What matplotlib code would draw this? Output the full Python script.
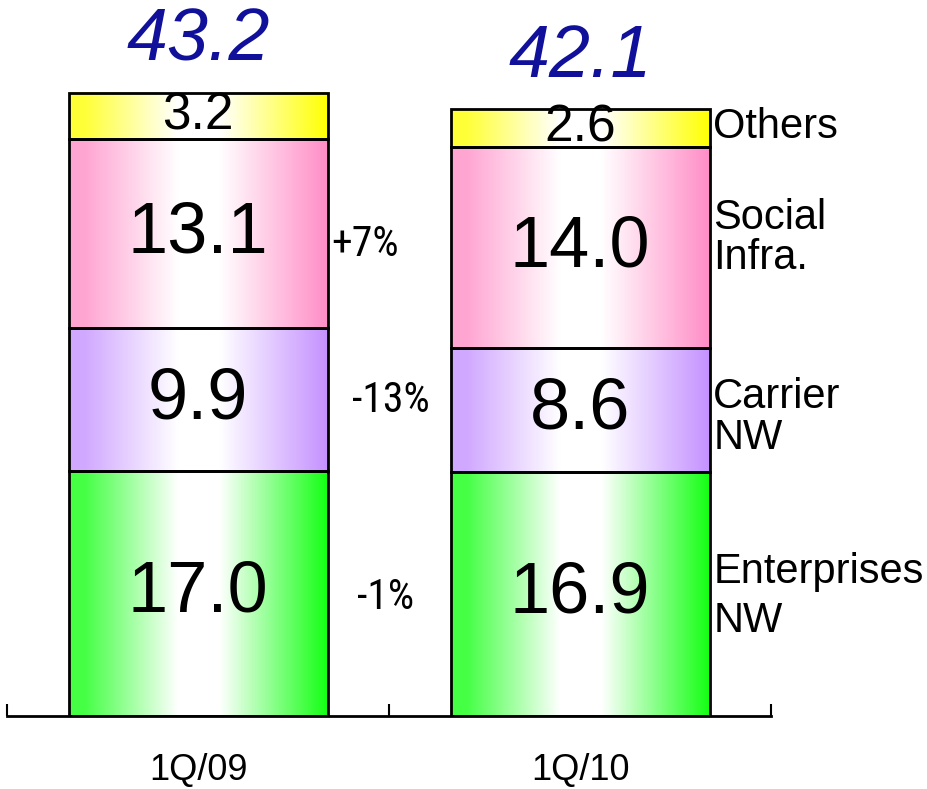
import numpy as np
import matplotlib.pyplot as plt
from matplotlib.colors import LinearSegmentedColormap, to_rgb

quarters = ['1Q/09', '1Q/10']
segments = ['Enterprises\nNW', 'Carrier\nNW', 'Social\nInfra.', 'Others']
enterprises = [17.0, 16.9]
carrier = [9.9, 8.6]
social = [13.1, 14.0]
others = [3.2, 2.6]
totals = [43.2, 42.1]
growth = ['-1%', '-13%', '+7%']
seg_colors = ['#11ff11', '#c490ff', '#ff8cc6', '#ffff00']

plt.rcParams['font.family'] = ['Liberation Sans', 'DejaVu Sans']
narrow = ['Roboto Condensed', 'Archivo Narrow', 'DejaVu Sans']

fig = plt.figure(figsize=(9.28, 7.89), dpi=100)
ax = fig.add_axes([0.00754, 0.0925, 0.8233, 0.877])

x = np.arange(len(quarters))
width = 0.678
series = [enterprises, carrier, social, others]
label_sizes = [52, 52, 52, 37]

bottom = np.zeros(len(quarters))
for vals, col, fs in zip(series, seg_colors, label_sizes):
    bars = ax.bar(x, vals, width, bottom=bottom, facecolor='none',
                  edgecolor='black', linewidth=2, zorder=3)
    c = np.array(to_rgb(col))
    left = c + (1 - c) * 0.22
    cmap = LinearSegmentedColormap.from_list(
        'g', [(0, left), (0.06, left), (0.42, (1, 1, 1)), (0.58, (1, 1, 1)), (1, c)])
    grad = np.linspace(0, 1, 256).reshape(1, -1)
    for b, v in zip(bars, vals):
        x0, y0 = b.get_x(), b.get_y()
        ax.imshow(grad, cmap=cmap, aspect='auto', zorder=2,
                  extent=(x0, x0 + b.get_width(), y0, y0 + b.get_height()))
        ax.text(x0 + b.get_width() / 2, y0 + v / 2, f'{v:.1f}', ha='center',
                va='center', fontsize=fs, zorder=4)
    bottom += np.array(vals)

for xi, t in zip(x, totals):
    ax.text(xi, t + 1.2, f'{t:.1f}', ha='center', va='bottom', fontsize=53,
            style='italic', color='#10109a')

# growth of each segment, placed in the gap between the bars
gy = [8.25, 21.9, 32.7]
gx = [0.49, 0.505, 0.437]
for g, yy, xx in zip(growth, gy, gx):
    ax.text(xx, yy, g, ha='center', va='center', fontsize=30, family=narrow)

# segment names to the right of the 1Q/10 bar
name_y = [8.29, 20.7, 33.15, 40.85]
spacing = [1.29, 1.01, 1.01, 1.0]
xr = x[1] + width / 2 + 0.01
for n, ny, ls in zip(segments, name_y, spacing):
    ax.text(xr, ny, n, ha='left', va='center', fontsize=30,
            linespacing=ls, clip_on=False)

ax.set_xlim(-0.5, 1.5)
ax.set_ylim(0, 48)
for s in ['top', 'right', 'left']:
    ax.spines[s].set_visible(False)
ax.spines['bottom'].set_linewidth(2)
ax.set_yticks([])
ax.set_xticks([-0.5, 0.5, 1.5])
ax.set_xticklabels([])
ax.tick_params(axis='x', direction='in', length=9, width=1.5)
for xi, q in zip(x, quarters):
    ax.text(xi, -3.8, q, ha='center', va='center', fontsize=26)

fig.savefig('out.png', dpi=100)
